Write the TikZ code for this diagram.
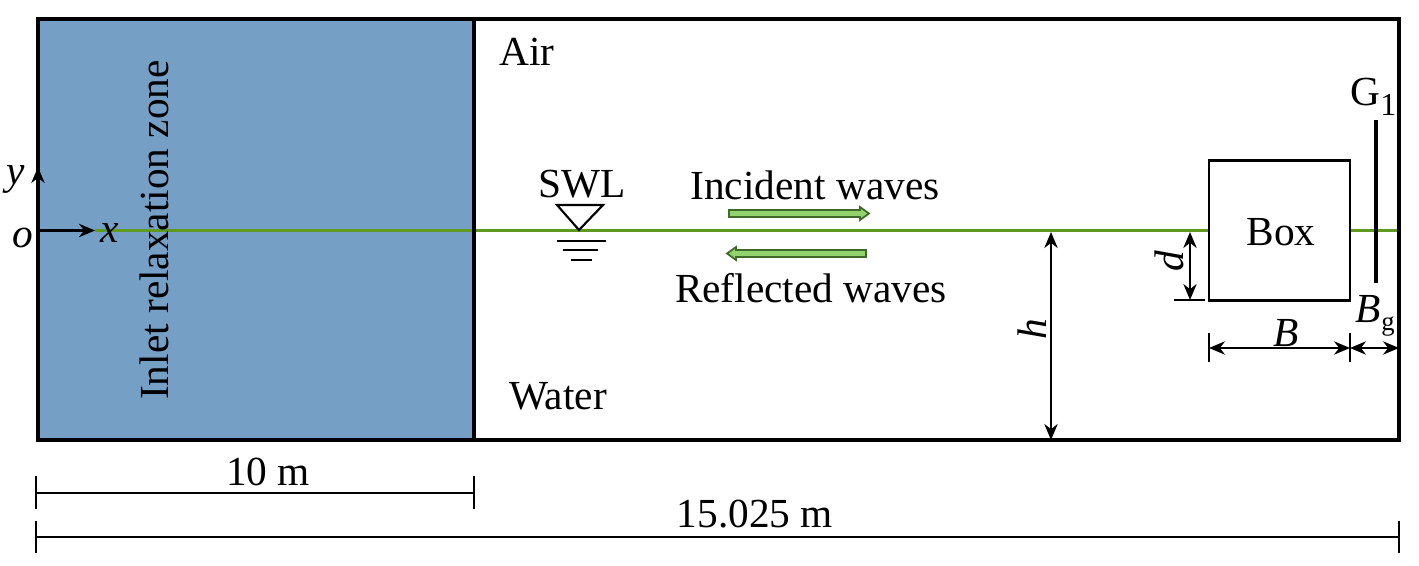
\documentclass[tikz,border=0pt]{standalone}
\usepackage{fontspec}
\setmainfont{Liberation Serif}
\usepackage{tikz}
\usetikzlibrary{calc,positioning,arrows.meta}
\definecolor{ZoneBlue}{HTML}{769FC6}
\definecolor{WaterGreen}{HTML}{5E9A1E}
\definecolor{WaveGreen}{HTML}{92D36E}
\definecolor{WaveEdge}{HTML}{3F6B2A}
\tikzset{
    lbl/.style={inner sep=0pt, font=\fontsize{31}{31}\selectfont},
    mathlbl/.style={lbl, font=\fontsize{31}{31}\selectfont\itshape},
    frameline/.style={line width=2.4pt, draw=black},
    dimline/.style={line width=1.6pt, {Stealth[length=12pt,width=10pt]}-{Stealth[length=12pt,width=10pt]}},
    tickline/.style={line width=1.8pt},
    waveshape/.style={draw=WaveEdge, fill=WaveGreen, line width=1.3pt, line join=miter},
    waterline/.style={WaterGreen, line width=2.4pt}
}
\begin{document}
\begin{tikzpicture}[x=0.75pt,y=-0.75pt]
        \useasboundingbox (0,0) rectangle (1419,566);
        % zone and frame
        \fill[ZoneBlue] (38,19) rectangle (474,440);
        \coordinate (wl) at (95,230.5);
        \coordinate (wr) at (1399,230.5);
        \node[draw, line width=2.2pt, minimum width=105.75pt, minimum height=105pt, inner sep=0pt, lbl] (box) at (1279.5,230.5) {};
        \draw[waterline] (wl) -- (box.west);
        \draw[waterline] (box.east) -- (wr);
        \draw[frameline] (38,19) rectangle (1399,440);
        \draw[frameline] (474,19) -- (474,440);
        \node[lbl, rotate=90] (zone) at (154,230) {Inlet relaxation zone};
        \node[lbl] (air) at (527,52) {Air};
        \node[lbl] (water) at (558,396) {Water};
        \node[lbl] (boxlbl) at (1281,232) {Box};
        % axes
        \coordinate (orig) at (38,230.5);
        \coordinate (ytip) at (38,167);
        \draw[line width=1.8pt, -{Stealth[length=12pt,width=10pt]}] (orig) -- (wl);
        \draw[line width=1.8pt, -{Stealth[length=12pt,width=10pt]}] (orig) -- (ytip);
        \node[mathlbl] (olbl) at (23,238) {o};
        \node[mathlbl] (xlbl) at (110,233) {x};
        \node[mathlbl] (ylbl) at (16,179) {y};
        % still water level
        \node[lbl] (swl) at (582,184) {SWL};
        \draw[line width=1.6pt] (557,205) -- (603,205) -- (579,230) -- cycle;
        \foreach \xa/\xb/\yy in {557/606/241, 563/598/250, 571/592/260} {
            \draw[line width=1.5pt] (\xa,\yy) -- (\xb,\yy);
        }
        % waves
        \node[lbl] (inc) at (815,185) {Incident waves};
        \node[lbl] (refl) at (811,288) {Reflected waves};
        \draw[waveshape] (729,210) -- (860,210) -- (860,207) -- (869,213.5) -- (860,220) -- (860,217) -- (729,217) -- cycle;
        \draw[waveshape] (866,250) -- (736,250) -- (736,247) -- (727,253.5) -- (736,260) -- (736,257) -- (866,257) -- cycle;
        % gauge
        \coordinate (gtop) at (1376,120);
        \coordinate (gbot) at (1376,283);
        \draw[line width=2.6pt] (gtop) -- (gbot);
        \node[lbl, anchor=base west] (gauge) at (1350,106) {G};
        \node[lbl, anchor=base west, font=\fontsize{24}{24}\selectfont] (gaugesub) at (1380,116) {1};
        % dimensions at the box
        \coordinate (dtop) at (1190,232);
        \coordinate (dbot) at (1190,300);
        \draw[tickline] (1174,300) -- (1205,300);
        \draw[dimline] (dtop) -- (dbot);
        \node[mathlbl, rotate=90] (dlbl) at (1169,261) {d};
        \coordinate (bl) at (1209,348);
        \coordinate (bm) at (1350,348);
        \coordinate (br) at (1399,348);
        \draw[tickline] (1209,333) -- (1209,362);
        \draw[tickline] (1350,333) -- (1350,362);
        \draw[dimline] (bl) -- (bm);
        \draw[dimline] (bm) -- (br);
        \node[mathlbl] (blbl) at (1286,333) {B};
        \node[mathlbl] (bglbl) at (1368,309) {B};
        \node[lbl, font=\fontsize{20}{20}\selectfont] (gsub) at (1388,327) {g};
        % depth
        \coordinate (htop) at (1051,232);
        \coordinate (hbot) at (1051,440);
        \draw[dimline] (htop) -- (hbot);
        \node[mathlbl, rotate=90] (hlbl) at (1032,329) {h};
        % lengths
        \coordinate (ma) at (36,493);
        \coordinate (mb) at (474,493);
        \coordinate (na) at (36,537);
        \coordinate (nb) at (1399,537);
        \draw[tickline] (ma) -- (mb);
        \draw[tickline] (36,476) -- (36,509);
        \draw[tickline] (474,476) -- (474,509);
        \draw[tickline] (na) -- (nb);
        \draw[tickline] (36,521) -- (36,553);
        \draw[tickline] (1399,521) -- (1399,553);
        \node[lbl] (tenm) at (268,472) {10 m};
        \node[lbl] (totm) at (755,514) {15.025 m};
    \end{tikzpicture}
\end{document}
